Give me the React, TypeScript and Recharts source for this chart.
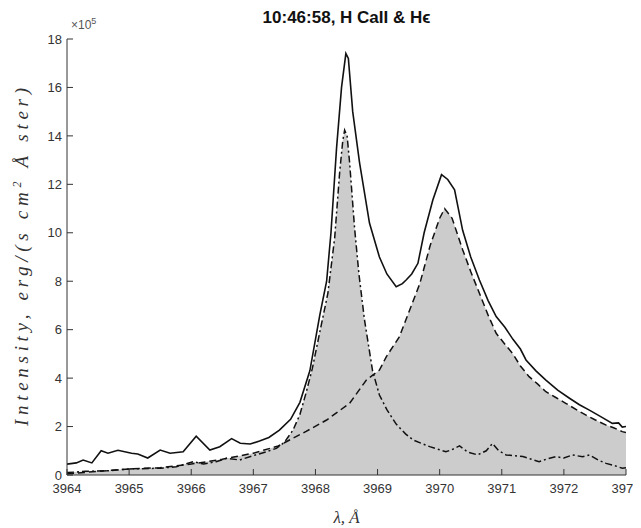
import React from 'react';
import { ComposedChart, Line, Area, XAxis, YAxis, Customized } from 'recharts';

// wavelength ticks (Å) and intensity ticks (×10^5)
const xTicks = [3964, 3965, 3966, 3967, 3968, 3969, 3970, 3971, 3972, 3973];
const yTicks = [0, 2, 4, 6, 8, 10, 12, 14, 16, 18];

// observed profile (solid)
const obsX = [3964.0, 3964.15, 3964.26, 3964.4, 3964.55, 3964.66, 3964.82, 3965.04, 3965.14, 3965.3, 3965.5, 3965.66, 3965.87, 3966.08, 3966.3, 3966.46, 3966.65, 3966.79, 3966.95, 3967.1, 3967.25, 3967.42, 3967.6, 3967.75, 3967.91, 3968.07, 3968.18, 3968.25, 3968.34, 3968.42, 3968.49, 3968.53, 3968.6, 3968.71, 3968.87, 3969.03, 3969.15, 3969.3, 3969.4, 3969.46, 3969.55, 3969.65, 3969.75, 3969.89, 3970.03, 3970.13, 3970.24, 3970.37, 3970.5, 3970.64, 3970.78, 3970.91, 3971.05, 3971.18, 3971.3, 3971.39, 3971.55, 3971.71, 3971.9, 3972.09, 3972.25, 3972.41, 3972.6, 3972.78, 3972.88, 3972.94, 3973.0];
const obsY = [0.45, 0.5, 0.62, 0.5, 1.0, 0.9, 1.02, 0.9, 0.87, 0.7, 1.03, 0.9, 0.96, 1.6, 1.03, 1.17, 1.5, 1.31, 1.28, 1.4, 1.55, 1.85, 2.3, 3.0, 4.3, 6.6, 8.0, 10.0, 13.5, 16.0, 17.4, 17.2, 15.0, 12.9, 10.4, 9.0, 8.3, 7.77, 7.9, 8.05, 8.3, 8.74, 10.0, 11.35, 12.4, 12.2, 11.77, 10.1, 9.0, 8.05, 7.2, 6.54, 6.1, 5.6, 5.2, 4.75, 4.3, 3.92, 3.5, 3.17, 2.9, 2.68, 2.4, 2.13, 2.15, 1.98, 2.0];

// Ca II H component (dash-dot)
const caX = [3964.0, 3964.3, 3964.7, 3965.0, 3965.5, 3965.76, 3966.03, 3966.2, 3966.4, 3966.57, 3966.78, 3967.0, 3967.2, 3967.37, 3967.5, 3967.64, 3967.75, 3967.85, 3967.95, 3968.07, 3968.2, 3968.31, 3968.39, 3968.44, 3968.47, 3968.51, 3968.55, 3968.63, 3968.7, 3968.79, 3968.92, 3969.03, 3969.15, 3969.3, 3969.45, 3969.57, 3969.84, 3970.1, 3970.2, 3970.32, 3970.45, 3970.61, 3970.75, 3970.85, 3970.95, 3971.07, 3971.34, 3971.6, 3971.75, 3971.87, 3972.0, 3972.14, 3972.3, 3972.41, 3972.55, 3972.68, 3972.8, 3972.94, 3973.0];
const caY = [0.1, 0.15, 0.18, 0.25, 0.28, 0.34, 0.55, 0.45, 0.55, 0.69, 0.62, 0.8, 0.95, 1.1, 1.35, 1.86, 2.5, 3.4, 4.4, 5.9, 7.5, 9.8, 12.5, 13.8, 14.24, 14.0, 12.9, 10.2, 8.3, 6.4, 4.3, 3.3, 2.7, 2.1, 1.7, 1.45, 1.17, 0.96, 1.05, 1.2, 0.95, 0.83, 1.0, 1.3, 1.0, 0.83, 0.76, 0.55, 0.68, 0.76, 0.7, 0.83, 0.75, 0.83, 0.62, 0.48, 0.4, 0.28, 0.3];

// H epsilon component (dashed)
const heX = [3964.0, 3964.5, 3965.0, 3965.5, 3966.0, 3966.5, 3967.0, 3967.4, 3967.85, 3968.18, 3968.55, 3968.82, 3969.03, 3969.14, 3969.35, 3969.5, 3969.68, 3969.85, 3970.0, 3970.08, 3970.2, 3970.37, 3970.5, 3970.64, 3970.78, 3970.91, 3971.05, 3971.18, 3971.3, 3971.44, 3971.58, 3971.71, 3971.87, 3972.03, 3972.2, 3972.35, 3972.5, 3972.68, 3972.8, 3972.94, 3973.0];
const heY = [0.05, 0.15, 0.25, 0.3, 0.45, 0.65, 0.9, 1.2, 1.8, 2.27, 2.96, 3.92, 4.33, 4.88, 5.7, 6.7, 7.9, 9.5, 10.6, 11.0, 10.6, 9.3, 8.4, 7.5, 6.6, 5.85, 5.4, 5.0, 4.5, 4.06, 3.75, 3.44, 3.2, 2.96, 2.7, 2.48, 2.28, 2.06, 1.95, 1.79, 1.75];

const rows = (xs: number[], ys: number[]) => xs.map((x, i) => ({ x, y: ys[i] }));
const obsData = rows(obsX, obsY);
const caData = rows(caX, caY);
const heData = rows(heX, heY);

const W = 633;
const H = 520;
const M = { top: 31, right: 15, bottom: 23, left: 19 };
const YW = 40;
const XH = 30;
const plotLeft = M.left + YW;
const plotRight = W - M.right;
const plotTop = M.top;
const plotBottom = H - M.bottom - XH;

const tickFont = { fontSize: 13, fill: '#333', fontFamily: '"Liberation Sans", Arial, sans-serif' };
const axisColor = '#333';

const Texts = () => {
  const cx = (plotLeft + plotRight) / 2;
  const cy = (plotTop + plotBottom) / 2;
  return (
    <g>
      <text x={cx} y={15} textAnchor="middle" fontFamily='"Liberation Sans", Arial, sans-serif' fontWeight="bold" fontSize={17} fill="#111">
        10:46:58, H CaII &amp; Hϵ
      </text>
      <text x={plotLeft + 4} y={21} fontFamily='"Liberation Sans", Arial, sans-serif' fontSize={12} fill="#555">
        ×10<tspan dy={-5} fontSize={9}>5</tspan>
      </text>
      <text transform={`translate(20, ${cy}) rotate(-90)`} textAnchor="middle" textLength={338} lengthAdjust="spacing"
        fontFamily='"Liberation Serif", "DejaVu Serif", serif' fontStyle="italic" fontSize={19} fill="#333">
        Intensity, erg/(s cm<tspan dy={-7} fontSize={12}>2</tspan><tspan dy={7}> Å ster)</tspan>
      </text>
      <text x={cx} y={H - 5} textAnchor="middle" fontFamily='"Liberation Serif", "DejaVu Serif", serif' fontStyle="italic" fontSize={17} fill="#333">
        λ, Å
      </text>
    </g>
  );
};

export default function App() {
  return (
    <div style={{ width: W, height: H, background: '#fff' }}>
      <ComposedChart width={W} height={H} margin={M}>
        <XAxis xAxisId="b" dataKey="x" type="number" domain={[3964, 3973]} ticks={xTicks} allowDataOverflow
          height={XH} tickSize={-6} tickMargin={15} tick={tickFont} stroke={axisColor} tickLine={{ stroke: axisColor }} />
        <XAxis xAxisId="t" orientation="top" dataKey="x" type="number" domain={[3964, 3973]} ticks={xTicks} allowDataOverflow
          height={0} tickSize={-6} tickFormatter={() => ''} stroke={axisColor} tickLine={{ stroke: axisColor }} />
        <YAxis yAxisId="l" type="number" domain={[0, 18]} ticks={yTicks} allowDataOverflow width={YW}
          tickSize={-6} tickMargin={11} tick={tickFont} stroke={axisColor} tickLine={{ stroke: axisColor }} />
        <YAxis yAxisId="r" orientation="right" type="number" domain={[0, 18]} ticks={yTicks} allowDataOverflow width={0}
          tickSize={-6} tickFormatter={() => ''} stroke={axisColor} tickLine={{ stroke: axisColor }} />
        <Area xAxisId="b" yAxisId="l" data={heData} dataKey="y" type="linear" stroke="none" fill="#cccccc" fillOpacity={1} isAnimationActive={false} />
        <Area xAxisId="b" yAxisId="l" data={caData} dataKey="y" type="linear" stroke="none" fill="#cccccc" fillOpacity={1} isAnimationActive={false} />
        <Line xAxisId="b" yAxisId="l" data={heData} dataKey="y" type="linear" stroke="#111" strokeWidth={1.5} strokeDasharray="7 4" dot={false} isAnimationActive={false} />
        <Line xAxisId="b" yAxisId="l" data={caData} dataKey="y" type="linear" stroke="#111" strokeWidth={1.5} strokeDasharray="7 3 2 3" dot={false} isAnimationActive={false} />
        <Line xAxisId="b" yAxisId="l" data={obsData} dataKey="y" type="linear" stroke="#111" strokeWidth={1.6} dot={false} isAnimationActive={false} />
        <Customized component={Texts} />
      </ComposedChart>
    </div>
  );
}
